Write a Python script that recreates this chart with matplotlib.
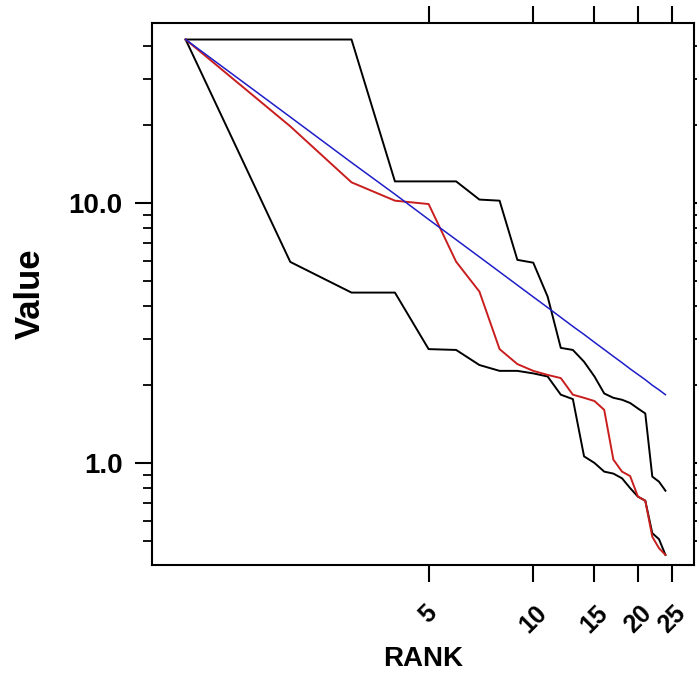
import numpy as np
import matplotlib
matplotlib.use("Agg")
import matplotlib.pyplot as plt
from matplotlib.ticker import FixedLocator, LogLocator, NullFormatter, NullLocator

plt.rcParams["font.family"] = ["Liberation Sans", "DejaVu Sans"]
plt.rcParams["font.weight"] = "bold"

# rank 1..24
rank = list(range(1, 25))

# fitted power law (blue)
fit = [42.5, 21.4, 14.3, 10.8, 8.64, 7.22, 6.20, 5.43, 4.83, 4.35, 3.96, 3.63,
       3.35, 3.12, 2.91, 2.73, 2.57, 2.43, 2.30, 2.19, 2.09, 1.99, 1.91, 1.83]
# observed (red)
obs = [42.5, 19.7, 12.0, 10.2, 9.9, 5.94, 4.56, 2.74, 2.40, 2.26, 2.18, 2.12,
       1.83, 1.78, 1.73, 1.60, 1.03, 0.926, 0.89, 0.742, 0.716, 0.52, 0.47, 0.443]
# envelope (black)
upper = [42.5, 42.5, 42.5, 12.1, 12.1, 12.1, 10.3, 10.2, 6.04, 5.89, 4.36, 2.77,
         2.72, 2.45, 2.15, 1.85, 1.78, 1.75, 1.70, 1.62, 1.55, 0.886, 0.847, 0.782]
lower = [42.5, 5.93, 4.52, 4.52, 2.74, 2.72, 2.38, 2.26, 2.26, 2.21, 2.15, 1.83,
         1.76, 1.06, 1.0, 0.926, 0.91, 0.873, 0.80, 0.742, 0.716, 0.537, 0.509, 0.443]

xticks = [5, 10, 15, 20, 25]
xticklabels = ["5", "10", "15", "20", "25"]
yticks = [1, 10]
yticklabels = ["1.0", "10.0"]

fig = plt.figure(figsize=(6.97, 6.74), dpi=100)
ax = fig.add_axes([0.218, 0.1617, 0.7777, 0.8042])

ax.plot(rank, upper, color="black", lw=1.4)
ax.plot(rank, lower, color="black", lw=1.4)
ax.plot(rank, obs, color="#c81e1e", lw=1.4)
ax.plot(rank, fit, color="#1e1ec8", lw=1.1)

ax.set_xscale("log")
ax.set_yscale("log")
ax.set_xlim(0.80, 29.0)
ax.set_ylim(0.405, 49.2)

ax.xaxis.set_major_locator(FixedLocator(xticks))
ax.xaxis.set_minor_locator(NullLocator())
ax.set_xticklabels(xticklabels, rotation=45, ha="center", va="top",
                   fontsize=18, fontweight="bold")
ax.yaxis.set_major_locator(FixedLocator(yticks))
ax.yaxis.set_minor_locator(LogLocator(base=10, subs=np.arange(2, 10)))
ax.yaxis.set_minor_formatter(NullFormatter())
ax.set_yticklabels(yticklabels, fontsize=20, fontweight="bold")

ax.tick_params(axis="both", which="major", direction="out", length=12, width=1.5,
               top=True, right=True)
ax.tick_params(axis="x", which="major", pad=14)
ax.tick_params(axis="y", which="major", pad=9)
ax.tick_params(axis="y", which="minor", direction="out", length=6.5, width=1.3,
               right=True)
for s in ax.spines.values():
    s.set_linewidth(1.5)

ax.set_xlabel("RANK", fontsize=20, fontweight="bold", labelpad=6)
ax.set_ylabel("Value", fontsize=25, fontweight="bold", labelpad=16)

fig.savefig("out.png", dpi=100)
